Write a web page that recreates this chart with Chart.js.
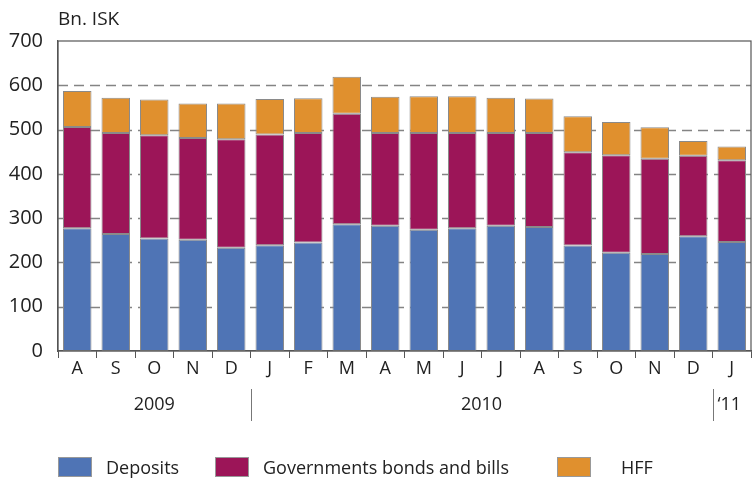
<!DOCTYPE html>
<html>
<head>
<meta charset="utf-8">
<script src="https://cdn.jsdelivr.net/npm/chart.js@4"></script>
<style>
  body { margin: 0; background: #fff; font-family: "Open Sans", sans-serif; }
  #wrap { position: relative; width: 752px; height: 480px; }
  #unit { position: absolute; left: 58px; top: 5px; font-size: 19px; color: #222; }
  .legend { position: absolute; top: 455px; font-size: 18px; color: #222; display: flex; align-items: center; }
  .legend span.box { display: inline-block; width: 32px; height: 18px; border: 1px solid #999; margin-right: 14px; }
</style>
</head>
<body>
<div id="wrap">
  <canvas id="chart" width="752" height="480"></canvas>
  <div id="unit">Bn. ISK</div>
  <div class="legend" style="left:58px"><span class="box" style="background:#4f74b5"></span>Deposits</div>
  <div class="legend" style="left:215px"><span class="box" style="background:#9c1558"></span>Governments bonds and bills</div>
  <div class="legend" style="left:557px"><span class="box" style="background:#e0902e"></span><span style="margin-left:16px">HFF</span></div>
</div>
<script>
const months = ['A', 'S', 'O', 'N', 'D', 'J', 'F', 'M', 'A', 'M', 'J', 'J', 'A', 'S', 'O', 'N', 'D', 'J'];
const deposits = [277, 264, 254, 251, 233, 239, 245, 286, 283, 274, 277, 283, 280, 238, 222, 219, 259, 246];
const govBonds = [229, 228, 233, 230, 245, 250, 247, 250, 209, 218, 215, 209, 212, 211, 220, 215, 182, 185];
const hff = [81, 80, 81, 78, 81, 80, 79, 83, 82, 83, 83, 80, 78, 81, 75, 71, 33, 31];
// year groups: label, first index, last index
const years = [['2009', 0, 4], ['2010', 5, 16], ['\u201811', 17, 17]];

// dashed grid lines behind the bars
const dashGrid = {
  id: 'dashGrid',
  beforeDatasetsDraw(chart) {
    const { ctx, chartArea: a, scales: { y } } = chart;
    ctx.save();
    ctx.strokeStyle = '#848484';
    ctx.lineWidth = 1.6;
    ctx.setLineDash([10, 6]);
    y.ticks.forEach(t => {
      if (t.value <= y.min || t.value >= y.max) return;
      const py = Math.round(y.getPixelForValue(t.value)) + 0.5;
      ctx.beginPath();
      ctx.moveTo(a.left, py);
      ctx.lineTo(a.right, py);
      ctx.stroke();
    });
    ctx.restore();
  }
};

const yearPlugin = {
  id: 'years',
  afterDraw(chart) {
    const { ctx, chartArea: a, scales: { x } } = chart;
    ctx.save();
    // frame around plot
    ctx.strokeStyle = '#555';
    ctx.lineWidth = 1.2;
    ctx.strokeRect(a.left, a.top, a.right - a.left, a.bottom - a.top);

    const half = (x.getPixelForValue(1) - x.getPixelForValue(0)) / 2;
    ctx.font = '18px "Open Sans"';
    ctx.fillStyle = '#222';
    ctx.textBaseline = 'middle';
    years.forEach(([label, i0, i1], k) => {
      const left = x.getPixelForValue(i0) - half;
      const right = x.getPixelForValue(i1) + half;
      if (k > 0) {
        ctx.strokeStyle = '#777';
        ctx.lineWidth = 1;
        ctx.beginPath();
        ctx.moveTo(left + 1, 389);
        ctx.lineTo(left + 1, 421);
        ctx.stroke();
      }
      if (i0 === i1) {
        ctx.textAlign = 'left';
        ctx.fillText(label, left + 5, 405);
      } else {
        ctx.textAlign = 'center';
        ctx.fillText(label, (left + right) / 2, 405);
      }
    });
    ctx.restore();
  }
};

const common = { borderColor: '#8a8a8a', borderWidth: 1, borderSkipped: false, categoryPercentage: 1, barPercentage: 0.74 };

new Chart(document.getElementById('chart'), {
  type: 'bar',
  data: {
    labels: months,
    datasets: [
      { label: 'Deposits', data: deposits, backgroundColor: '#4f74b5', ...common },
      { label: 'Governments bonds and bills', data: govBonds, backgroundColor: '#9c1558', ...common },
      { label: 'HFF', data: hff, backgroundColor: '#e0902e', ...common }
    ]
  },
  options: {
    responsive: false,
    animation: false,
    layout: { padding: { left: 0, right: 1, top: 41, bottom: 0 } },
    plugins: { legend: { display: false }, tooltip: { enabled: false } },
    scales: {
      x: {
        stacked: true,
        grid: { offset: true, drawOnChartArea: false, color: '#555', tickLength: 7 },
        border: { color: '#555', width: 1.2 },
        ticks: { color: '#222', font: { family: 'Open Sans', size: 18 }, padding: 0, maxRotation: 0 },
        afterFit(scale) { scale.height = 129; }
      },
      y: {
        stacked: true,
        min: 0,
        max: 700,
        ticks: { stepSize: 100, color: '#222', font: { family: 'Open Sans', size: 20 }, padding: 7 },
        grid: { display: false },
        border: { color: '#555', width: 1.2 },
        afterFit(scale) { scale.width = 58; }
      }
    }
  },
  plugins: [dashGrid, yearPlugin]
});
</script>
</body>
</html>
